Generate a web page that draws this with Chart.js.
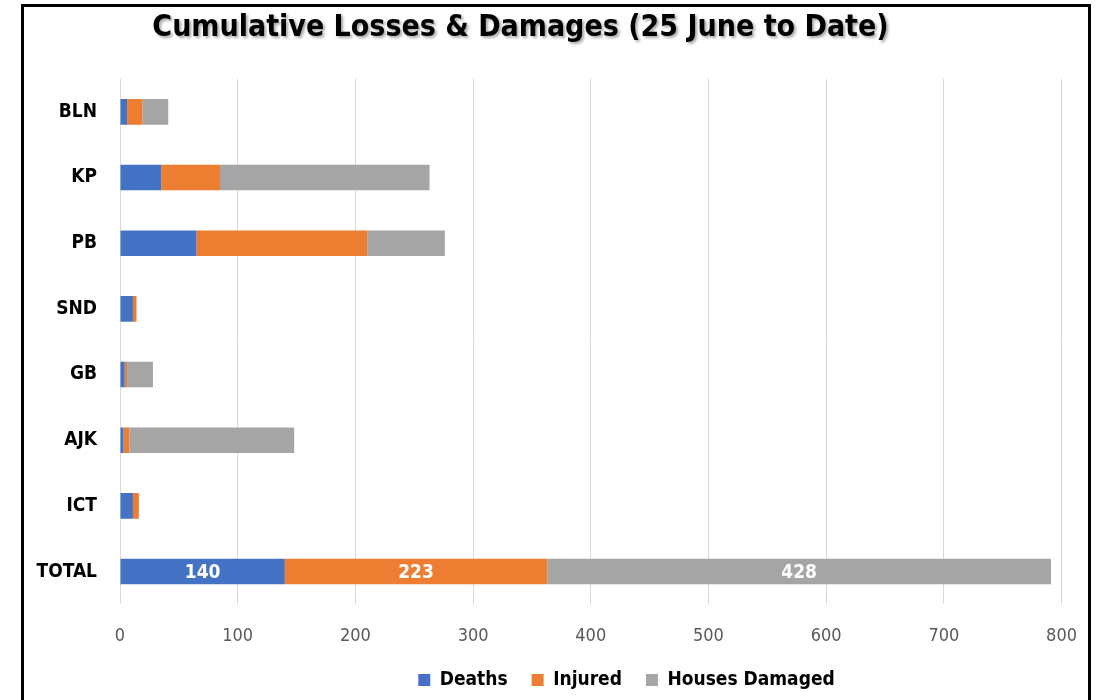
<!DOCTYPE html>
<html>
<head>
<meta charset="utf-8">
<script src="https://cdn.jsdelivr.net/npm/chart.js@4.4.1/dist/chart.umd.min.js"></script>
<style>
    html, body { margin: 0; padding: 0; background: #fff; }
    #wrap { position: relative; width: 1098px; height: 700px; }
    #frame {
        position: absolute; left: 21px; top: 4px; width: 1064px; height: 694px;
        border: 3px solid #000; border-bottom: 1px solid #999;
        pointer-events: none;
    }
</style>
</head>
<body>
<div id="wrap">
    <canvas id="lossChart" width="1098" height="700"></canvas>
    <div id="frame"></div>
</div>
<script>
const regions = ['BLN', 'KP', 'PB', 'SND', 'GB', 'AJK', 'ICT', 'TOTAL'];
const deaths = [6, 35, 65, 11, 4, 3, 11, 140];
const injured = [13, 50, 145, 3, 2, 5, 5, 223];
const housesDamaged = [22, 178, 66, 0, 22, 140, 0, 428];
const xTicks = [0, 100, 200, 300, 400, 500, 600, 700, 800];

const labelFont = '"DejaVu Sans Condensed", "DejaVu Sans", sans-serif';

// white value labels, only on the TOTAL bar
const totalLabels = {
    id: 'totalLabels',
    afterDatasetsDraw(chart) {
        const ctx = chart.ctx;
        const last = regions.length - 1;
        ctx.save();
        ctx.font = 'bold 19px ' + labelFont;
        ctx.fillStyle = '#fff';
        ctx.textAlign = 'center';
        ctx.textBaseline = 'middle';
        chart.data.datasets.forEach((ds, i) => {
            const bar = chart.getDatasetMeta(i).data[last];
            const cx = (bar.x + bar.base) / 2;
            ctx.fillText(ds.data[last], cx, bar.y + 1);
        });
        ctx.restore();
    }
};

// nudge title and legend to where they sit in the original, soft shadow on title
const nudge = {
    id: 'nudge',
    afterLayout(chart) {
        chart.titleBlock.left -= 12;
        chart.titleBlock.right -= 12;
        chart.legend.left += 94;
        chart.legend.right += 94;
        if (!chart.titleBlock._shadowed) {
            const orig = chart.titleBlock.draw;
            chart.titleBlock.draw = function () {
                const ctx = chart.ctx;
                ctx.save();
                ctx.shadowColor = 'rgba(0,0,0,0.35)';
                ctx.shadowBlur = 3;
                ctx.shadowOffsetX = 2;
                ctx.shadowOffsetY = 2;
                orig.call(this);
                ctx.restore();
            };
            chart.titleBlock._shadowed = true;
        }
    }
};

new Chart(document.getElementById('lossChart'), {
    type: 'bar',
    data: {
        labels: regions,
        datasets: [
            { label: 'Deaths', data: deaths, backgroundColor: '#4472C4' },
            { label: 'Injured', data: injured, backgroundColor: '#ED7D31' },
            { label: 'Houses Damaged', data: housesDamaged, backgroundColor: '#A5A5A5' }
        ]
    },
    options: {
        indexAxis: 'y',
        responsive: false,
        animation: false,
        layout: { padding: { left: 0, right: 33, top: 0, bottom: 0.6 } },
        datasets: { bar: { barPercentage: 0.5, categoryPercentage: 0.78 } },
        scales: {
            x: {
                stacked: true,
                min: 0,
                max: 800,
                afterBuildTicks(scale) { scale.ticks = xTicks.map(v => ({ value: v })); },
                afterFit(scale) { scale.height = 42; },
                grid: { color: '#d9d9d9', lineWidth: 1, drawTicks: false, tickLength: 0 },
                border: { display: false },
                ticks: { color: '#595959', padding: 21, font: { family: labelFont, size: 18 } }
            },
            y: {
                stacked: true,
                afterFit(scale) { scale.width = 120; },
                grid: { display: false },
                border: { display: false },
                ticks: { color: '#000', padding: 15, font: { family: labelFont, size: 19, weight: 'bold' } }
            }
        },
        plugins: {
            title: {
                display: true,
                text: 'Cumulative Losses & Damages (25 June to Date)',
                color: '#000',
                font: { family: labelFont, size: 30, weight: 'bold', lineHeight: 1.2 },
                padding: { top: 10, bottom: 33 }
            },
            legend: {
                position: 'bottom',
                labels: {
                    color: '#000',
                    boxWidth: 12,
                    boxHeight: 12,
                    padding: 24,
                    font: { family: labelFont, size: 19, weight: 'bold' }
                }
            },
            tooltip: { enabled: false }
        }
    },
    plugins: [totalLabels, nudge]
});
</script>
</body>
</html>
